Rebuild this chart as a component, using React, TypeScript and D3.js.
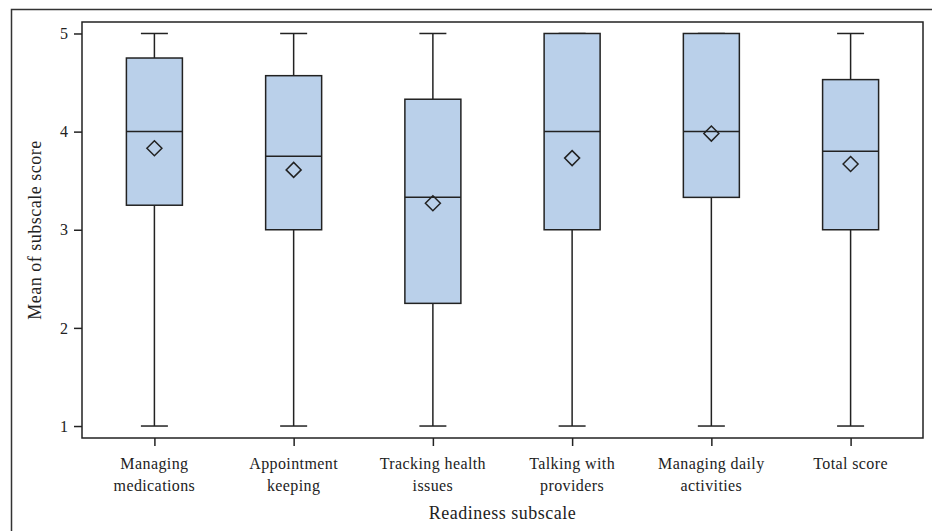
import { useEffect, useRef } from 'react';
import * as d3 from 'd3';

// categories (two-line labels)
const categories = [
  'Managing medications',
  'Appointment keeping',
  'Tracking health issues',
  'Talking with providers',
  'Managing daily activities',
  'Total score',
];
const labelLines = [
  ['Managing', 'medications'],
  ['Appointment', 'keeping'],
  ['Tracking health', 'issues'],
  ['Talking with', 'providers'],
  ['Managing daily', 'activities'],
  ['Total score'],
];
const mins = [1, 1, 1, 1, 1, 1];
const q1s = [3.25, 3, 2.25, 3, 3.33, 3];
const medians = [4, 3.75, 3.33, 4, 4, 3.8];
const q3s = [4.75, 4.57, 4.33, 5, 5, 4.53];
const maxs = [5, 5, 5, 5, 5, 5];
const means = [3.83, 3.61, 3.27, 3.73, 3.98, 3.67];
const yTicks = [1, 2, 3, 4, 5];

const W = 932;
const H = 531;

const App = () => {
  const ref = useRef<SVGSVGElement>(null);

  useEffect(() => {
    const svg = d3.select(ref.current);
    svg.selectAll('*').remove();

    const left = 82, right = 923, top = 22, bottom = 438;
    const font = '"Liberation Serif", "Times New Roman", serif';
    const ink = '#222';

    // outer frame
    svg.append('rect')
      .attr('x', 11.5).attr('y', 9.5)
      .attr('width', W + 20).attr('height', H + 20)
      .attr('fill', 'none').attr('stroke', '#333').attr('stroke-width', 1.5);

    const x = d3.scalePoint<string>()
      .domain(categories)
      .range([left, right])
      .padding(0.52);

    const y = d3.scaleLinear()
      .domain([0.878, 5.117])
      .range([bottom, top]);

    // y axis
    const yAxis = svg.append('g')
      .attr('transform', `translate(${left},0)`)
      .call(d3.axisLeft(y).tickValues(yTicks).tickFormat(d3.format('d')).tickSize(8).tickPadding(6));
    yAxis.select('.domain').remove();
    yAxis.selectAll('line').attr('stroke', ink).attr('stroke-width', 1.5);
    yAxis.selectAll('text').attr('font-family', font).attr('font-size', 16).attr('fill', ink);

    // x axis ticks
    const xAxis = svg.append('g')
      .attr('transform', `translate(0,${bottom})`)
      .call(d3.axisBottom(x).tickSize(8).tickFormat(() => ''));
    xAxis.select('.domain').remove();
    xAxis.selectAll('line').attr('stroke', ink).attr('stroke-width', 1.5);

    // x labels
    categories.forEach((c, i) => {
      const t = svg.append('text')
        .attr('x', x(c)!)
        .attr('y', 469)
        .attr('text-anchor', 'middle')
        .attr('font-family', font)
        .attr('font-size', 16)
        .attr('letter-spacing', 0.4)
        .attr('fill', ink);
      labelLines[i].forEach((ln, j) => {
        t.append('tspan').attr('x', x(c)!).attr('dy', j === 0 ? 0 : 22).text(ln);
      });
    });

    // boxes
    const bw = 56, cap = 27;
    const g = svg.append('g');
    categories.forEach((c, i) => {
      const cx = x(c)!;
      // whiskers
      g.append('line').attr('x1', cx).attr('x2', cx).attr('y1', y(maxs[i])).attr('y2', y(q3s[i]))
        .attr('stroke', ink).attr('stroke-width', 1.5);
      g.append('line').attr('x1', cx).attr('x2', cx).attr('y1', y(q1s[i])).attr('y2', y(mins[i]))
        .attr('stroke', ink).attr('stroke-width', 1.5);
      g.append('line').attr('x1', cx - cap / 2).attr('x2', cx + cap / 2).attr('y1', y(maxs[i])).attr('y2', y(maxs[i]))
        .attr('stroke', ink).attr('stroke-width', 1.5);
      g.append('line').attr('x1', cx - cap / 2).attr('x2', cx + cap / 2).attr('y1', y(mins[i])).attr('y2', y(mins[i]))
        .attr('stroke', ink).attr('stroke-width', 1.5);
      // box
      g.append('rect')
        .attr('x', cx - bw / 2).attr('y', y(q3s[i]))
        .attr('width', bw).attr('height', y(q1s[i]) - y(q3s[i]))
        .attr('fill', '#bad0ea').attr('stroke', ink).attr('stroke-width', 1.5);
      g.append('line').attr('x1', cx - bw / 2).attr('x2', cx + bw / 2)
        .attr('y1', y(medians[i])).attr('y2', y(medians[i]))
        .attr('stroke', ink).attr('stroke-width', 1.5);
      // mean diamond
      const my = y(means[i]), r = 7.5;
      g.append('path')
        .attr('d', `M${cx},${my - r}L${cx + r},${my}L${cx},${my + r}L${cx - r},${my}Z`)
        .attr('fill', 'none').attr('stroke', ink).attr('stroke-width', 1.5);
    });

    // plot frame
    svg.append('rect')
      .attr('x', left).attr('y', top)
      .attr('width', right - left).attr('height', bottom - top)
      .attr('fill', 'none').attr('stroke', ink).attr('stroke-width', 1.5);

    // axis titles
    svg.append('text')
      .attr('x', (left + right) / 2).attr('y', 519)
      .attr('text-anchor', 'middle')
      .attr('font-family', font).attr('font-size', 18).attr('letter-spacing', 0.5).attr('fill', ink)
      .text('Readiness subscale');
    svg.append('text')
      .attr('transform', `translate(41,${(top + bottom) / 2}) rotate(-90)`)
      .attr('text-anchor', 'middle')
      .attr('font-family', font).attr('font-size', 18).attr('letter-spacing', 0.5).attr('fill', ink)
      .text('Mean of subscale score');
  }, []);

  return (
    <svg ref={ref} width={W} height={H}
      style={{ position: 'absolute', left: 0, top: 0, background: '#fff' }} />
  );
};

export default App;
